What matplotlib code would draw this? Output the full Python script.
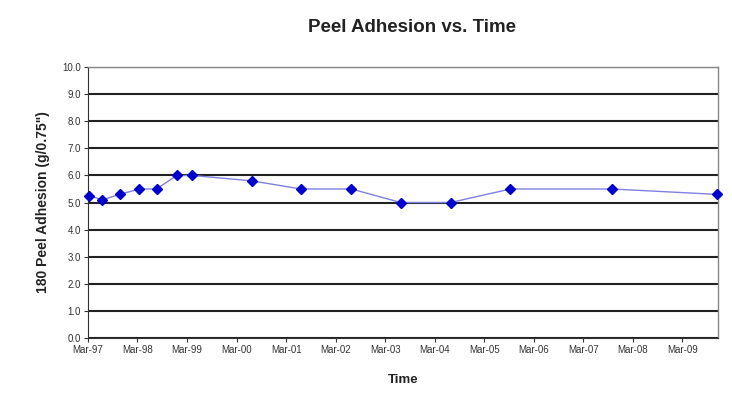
import matplotlib.pyplot as plt
import matplotlib.dates as mdates
import pandas as pd

# Données
dates = ['1997-03-10', '1997-06-15', '1997-10-20', '1998-03-15', '1998-07-20',
         '1998-12-15', '1999-04-10', '2000-06-20', '2001-06-20', '2002-06-25',
         '2003-06-25', '2004-06-25', '2005-09-10', '2007-10-01', '2009-11-10']
adhesion = [5.25, 5.1, 5.3, 5.5, 5.5, 6.0, 6.0, 5.8, 5.5, 5.5, 5.0, 5.0, 5.5, 5.5, 5.3]
tick_dates = pd.date_range('1997-03-01', '2009-03-01', freq='12MS')

plt.rcParams['font.family'] = ['Liberation Sans', 'DejaVu Sans']

x = pd.to_datetime(dates)

fig = plt.figure(figsize=(7.32, 3.99), dpi=100)
ax = fig.add_axes([0.1202, 0.1529, 0.861, 0.679])

ax.plot(x, adhesion, color='#8080e0', linewidth=1.0, zorder=3)
ax.plot(x, adhesion, linestyle='none', marker='D', markersize=5,
        color='#0000cc', zorder=4, clip_on=False)

ax.set_ylim(0, 10)
ax.set_yticks([i for i in range(11)])
ax.set_yticklabels(['%.1f' % i for i in range(11)])
ax.set_xlim(pd.Timestamp('1997-03-01'), pd.Timestamp('2009-11-20'))
ax.set_xticks(tick_dates)
ax.xaxis.set_major_formatter(mdates.DateFormatter('Mar-%y'))

ax.grid(axis='y', color='#222222', linewidth=1.5)
ax.set_axisbelow(True)
for s in ['top', 'right']:
    ax.spines[s].set_color('#888888')
    ax.spines[s].set_linewidth(1.0)
ax.spines['left'].set_color('#333333')
ax.spines['bottom'].set_color('#333333')
ax.tick_params(axis='both', labelsize=7, length=3, width=0.8, color='#333333',
               labelcolor='#333333', pad=2)

fig.text(0.563, 0.93, 'Peel Adhesion vs. Time', ha='center', va='center',
         fontsize=13.5, fontweight='bold', color='#222222')
ax.set_xlabel('Time', fontsize=9.5, fontweight='bold', labelpad=14, color='#222222')
ax.set_ylabel('180 Peel Adhesion (g/0.75")', fontsize=10, fontweight='bold',
              labelpad=9, color='#222222')

fig.savefig('out.png', dpi=100)
